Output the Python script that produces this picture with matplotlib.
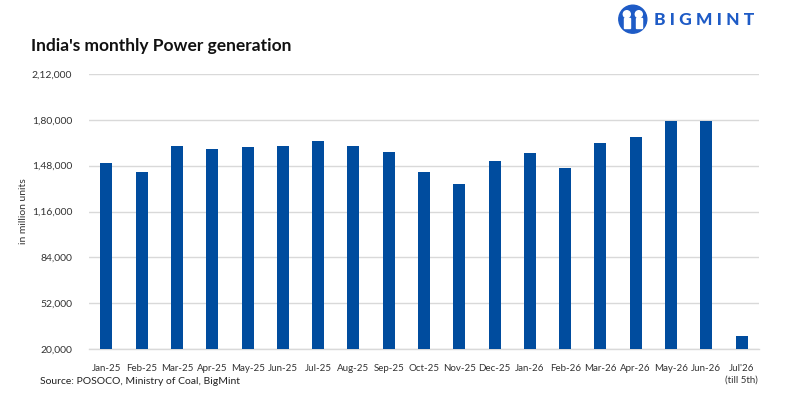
import matplotlib.pyplot as plt
import matplotlib.patches as mpatches

plt.rcParams['font.family'] = ['Lato', 'DejaVu Sans']

# monthly power generation, million units
months = ['Jan-25', 'Feb-25', 'Mar-25', 'Apr-25', 'May-25', 'Jun-25', 'Jul-25',
          'Aug-25', 'Sep-25', 'Oct-25', 'Nov-25', 'Dec-25', 'Jan-26', 'Feb-26',
          'Mar-26', 'Apr-26', 'May-26', 'Jun-26', "Jul'26\n(till 5th)"]
generation = [149600, 143300, 161400, 159300, 160700, 161400, 164900,
              161400, 157300, 143300, 135000, 151000, 156600, 146100,
              163500, 167700, 178900, 178900, 29250]

yticks = [20000, 52000, 84000, 116000, 148000, 180000, 212000]
ytick_labels = ['20,000', '52,000', '84,000', '1,16,000', '1,48,000', '1,80,000', '2,12,000']

bar_col = '#004C9E'
logo_col = '#1E5BC6'

fig = plt.figure(figsize=(8, 4), dpi=100)
ax = fig.add_axes([0.111, 0.1275, 0.838, 0.6875])

x = range(len(months))
ax.bar(x, generation, width=0.34, color=bar_col, zorder=3)

ax.set_ylim(20000, 212000)
ax.set_xlim(-0.5, len(months) - 0.5)
ax.set_yticks(yticks)
ax.set_yticklabels(ytick_labels, fontsize=7.5, color='#333333')
ax.set_xticks(list(x))
ax.set_xticklabels(months, fontsize=7, color='#333333', linespacing=1.3, va='top')
ax.tick_params(axis='both', length=0)
ax.tick_params(axis='x', pad=11)
ax.tick_params(axis='y', pad=12)
ax.grid(axis='y', color='#D9D9D9', linewidth=1, zorder=0)

for s in ['top', 'right', 'left']:
    ax.spines[s].set_visible(False)
ax.spines['bottom'].set_color('#D9D9D9')
ax.spines['bottom'].set_linewidth(1)

ax.set_ylabel('in million units', fontsize=7.5, color='#333333')
ax.yaxis.set_label_coords(-0.09, 0.5)

fig.text(0.039, 0.885, "India's monthly Power generation", fontsize=12.5,
         fontweight='bold', color='#111111', va='center')
fig.text(0.05, 0.045, 'Source: POSOCO, Ministry of Coal, BigMint', fontsize=7.5,
         color='#222222', va='center')

# logo: round badge + wordmark
cx, cy = 0.791, 0.952
fig.patches.append(mpatches.Ellipse((cx, cy), 28 / 800, 28 / 400,
                                    transform=fig.transFigure, color=logo_col))
for dx in (-6, 6):
    fig.patches.append(mpatches.Ellipse((cx + dx / 800, cy + 5 / 400), 7 / 800, 7 / 400,
                                        transform=fig.transFigure, color='white'))
    fig.patches.append(mpatches.Rectangle((cx + (dx - 3) / 800, cy - 9 / 400), 6 / 800, 10 / 400,
                                          transform=fig.transFigure, color='white'))
fig.text(0.818, 0.950, 'B I G M I N T', fontsize=12.5, fontweight='black',
         color=logo_col, va='center')

fig.savefig('out.png', dpi=100)
